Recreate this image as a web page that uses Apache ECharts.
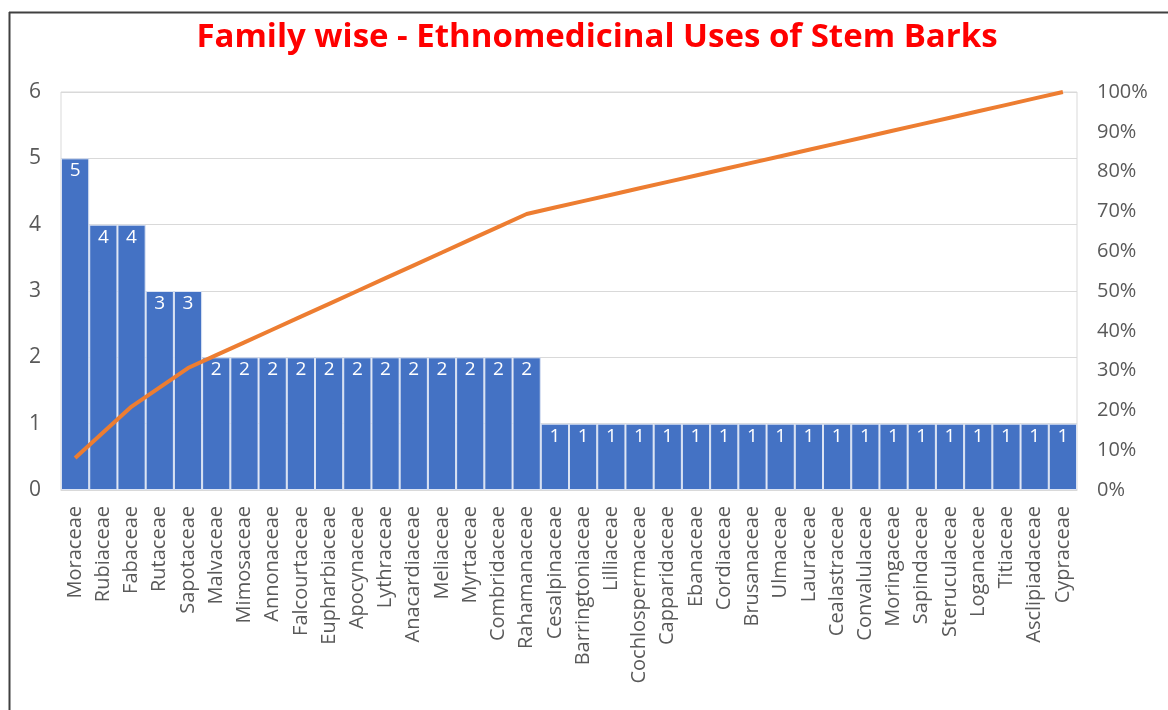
<!DOCTYPE html>
<html>
<head>
<meta charset="utf-8">
<script src="https://cdn.jsdelivr.net/npm/echarts@6/dist/echarts.min.js"></script>
<style>
html,body{margin:0;padding:0;background:#fff;}
#chart{width:1168px;height:710px;}
</style>
</head>
<body>
<div id="chart"></div>
<script>
const families = ["Moraceae","Rubiaceae","Fabaceae","Rutaceae","Sapotaceae","Malvaceae","Mimosaceae","Annonaceae","Falcourtaceae","Eupharbiaceae","Apocynaceae","Lythraceae","Anacardiaceae","Meliaceae","Myrtaceae","Combridaceae","Rahamanaceae","Cesalpinaceae","Barringtoniaceae","Lilliaceae","Cochlospermaceae","Capparidaceae","Ebanaceae","Cordiaceae","Brusanaceae","Ulmaceae","Lauraceae","Cealastraceae","Convalulaceae","Moringaceae","Sapindaceae","Steruculaceae","Loganaceae","Titiaceae","Asclipiadaceae","Cypraceae"];
const uses = [5,4,4,3,3,2,2,2,2,2,2,2,2,2,2,2,2,1,1,1,1,1,1,1,1,1,1,1,1,1,1,1,1,1,1,1];
const leftTicks = [0,1,2,3,4,5,6];
const rightTicks = ["0%","10%","20%","30%","40%","50%","60%","70%","80%","90%","100%"];

const total = uses.reduce((a,b)=>a+b,0);
let run = 0;
const cumulative = uses.map(v => { run += v; return run/total; });

const chart = echarts.init(document.getElementById('chart'));
const font = '"Open Sans", "Noto Sans", sans-serif';
chart.setOption({
  backgroundColor:'#fff',
  animation:false,
  textStyle:{fontFamily:font},
  title:{
    text:'Family wise - Ethnomedicinal Uses of Stem Barks',
    left:592, top:16, textAlign:'center',
    textStyle:{color:'#ff0000', fontSize:33, fontWeight:'bold', fontFamily:font}
  },
  graphic:[
    {type:'line', shape:{x1:9,y1:12.5,x2:1168,y2:12.5}, style:{stroke:'#404040',lineWidth:2}},
    {type:'line', shape:{x1:9.5,y1:12,x2:9.5,y2:710}, style:{stroke:'#404040',lineWidth:2}}
  ],
  grid:{left:61, right:91, top:92, bottom:220, show:true, borderColor:'#d9d9d9', borderWidth:1},
  xAxis:{
    type:'category', data:families,
    axisLine:{lineStyle:{color:'#d9d9d9'}},
    axisTick:{show:false},
    axisLabel:{interval:0, rotate:90, color:'#595959', fontSize:20, margin:16, fontFamily:font}
  },
  yAxis:[
    {type:'value', min:leftTicks[0], max:leftTicks[leftTicks.length-1], interval:1,
     axisLine:{show:false}, axisTick:{show:false},
     axisLabel:{color:'#595959', fontSize:21, margin:20, fontFamily:font},
     splitLine:{lineStyle:{color:'#d9d9d9'}}},
    {type:'value', min:0, max:1, interval:0.1, position:'right',
     axisLine:{show:false}, axisTick:{show:false},
     axisLabel:{color:'#595959', fontSize:20, margin:20, fontFamily:font,
       formatter:(v)=>rightTicks[Math.round(v*10)]},
     splitLine:{show:false}}
  ],
  series:[
    {type:'bar', data:uses, barCategoryGap:'0%',
     itemStyle:{color:'#4472C4', borderColor:'#dbe3f3', borderWidth:1},
     label:{show:true, position:'insideTop', color:'#ffffff', fontSize:19, distance:3, fontFamily:font}},
    {type:'line', yAxisIndex:1, data:cumulative, showSymbol:false, symbol:'none',
     lineStyle:{color:'#ED7D31', width:4}, z:5}
  ]
});
</script>
</body>
</html>
